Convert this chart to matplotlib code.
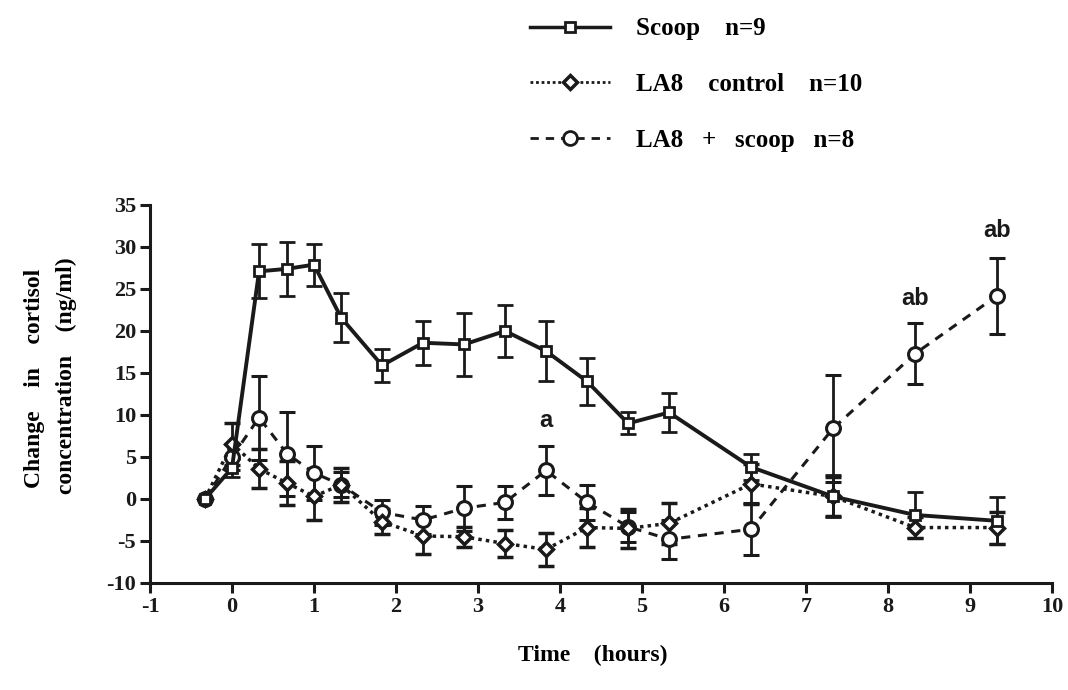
import matplotlib
matplotlib.use('Agg')
import matplotlib.pyplot as plt
from matplotlib.lines import Line2D

plt.rcParams['axes.unicode_minus'] = False

# sampling times (hours)
time_h = [-0.33, 0, 0.33, 0.67, 1.0, 1.33, 1.83, 2.33, 2.83, 3.33, 3.83,
          4.33, 4.83, 5.33, 6.33, 7.33, 8.33, 9.33]

# Scoop n=9
scoop = [0, 3.7, 27.1, 27.4, 27.9, 21.6, 15.9, 18.6, 18.4, 20.0, 17.6,
         14.0, 9.0, 10.3, 3.8, 0.3, -1.9, -2.6]
scoop_err = [0, 1.1, 3.2, 3.2, 2.5, 2.9, 2.0, 2.6, 3.8, 3.1, 3.6,
             2.8, 1.3, 2.3, 1.5, 2.5, 2.7, 2.8]

# LA8 control n=10
control = [0, 6.6, 3.6, 1.9, 0.3, 1.7, -2.7, -4.4, -4.5, -5.3, -6.0,
           -3.4, -3.5, -2.9, 1.8, 0.3, -3.4, -3.4]
control_err = [0, 2.5, 2.3, 2.6, 2.8, 2.0, 1.5, 2.2, 1.2, 1.6, 2.0,
               2.3, 2.3, 2.4, 2.4, 2.3, 1.2, 1.9]

# LA8 + scoop n=8
la8_scoop = [0, 5.0, 9.7, 5.4, 3.1, 1.7, -1.6, -2.5, -1.1, -0.4, 3.4,
             -0.4, -3.3, -4.8, -3.6, 8.4, 17.3, 24.2]
la8_scoop_err = [0, 1.5, 5.0, 5.0, 3.2, 1.5, 1.5, 1.7, 2.7, 2.0, 2.9,
                 2.1, 1.8, 2.3, 3.1, 6.4, 3.6, 4.5]

# significance labels: (time, y, text)
sig_labels = [(3.83, 9.3, 'a'), (8.33, 23.9, 'ab'), (9.33, 32.0, 'ab')]

legend_labels = ['Scoop    n=9', 'LA8    control    n=10', 'LA8   +   scoop   n=8']

serif = 'Liberation Serif'
sans = 'Liberation Sans'
ink = '#1a1a1a'

fig = plt.figure(figsize=(10.68, 6.9), dpi=100)
ax = fig.add_axes([150/1068, 1 - 583/690, (1052-150)/1068, (583-205)/690])

eb = dict(color=ink, elinewidth=2, capsize=6, capthick=2.5, zorder=3)

ax.errorbar(time_h, la8_scoop, yerr=la8_scoop_err, linestyle=(0, (3, 2.5)),
            linewidth=2.2, marker='o', markersize=10, markerfacecolor='white',
            markeredgewidth=2.2, markeredgecolor=ink, **eb)
ax.errorbar(time_h, control, yerr=control_err, linestyle=(0, (1, 1.2)),
            linewidth=2.5, marker='D', markersize=7, markerfacecolor='white',
            markeredgewidth=2.5, markeredgecolor=ink, **eb)
ax.errorbar(time_h, scoop, yerr=scoop_err, linestyle='-',
            linewidth=2.8, marker='s', markersize=7, markerfacecolor='white',
            markeredgewidth=2, markeredgecolor=ink, **eb)

for x, y, t in sig_labels:
    ax.text(x, y, t, ha='center', va='center', fontsize=17,
            fontweight='bold', family=sans, color=ink)

ax.set_xlim(-1, 10)
ax.set_ylim(-10, 35)
ax.set_xticks(range(-1, 11))
ax.set_yticks(range(-10, 36, 5))
ax.spines['top'].set_visible(False)
ax.spines['right'].set_visible(False)
for s in ['left', 'bottom']:
    ax.spines[s].set_linewidth(2.2)
    ax.spines[s].set_color(ink)
ax.tick_params(direction='out', length=7, width=2.2, colors=ink, pad=3)
for lab in ax.get_xticklabels() + ax.get_yticklabels():
    lab.set_family(serif)
    lab.set_fontweight('bold')
    lab.set_fontsize(16)

fig.text(593/1068, 1 - 655/690, 'Time    (hours)', ha='center', va='center',
         family=serif, fontweight='bold', fontsize=17)
fig.text(35/1068, 1 - 378/690, 'Change    in    cortisol', rotation=90,
         ha='center', va='center', family=serif, fontweight='bold', fontsize=17)
fig.text(66/1068, 1 - 376/690, 'concentration    (ng/ml)', rotation=90,
         ha='center', va='center', family=serif, fontweight='bold', fontsize=17)

handles = [
    Line2D([], [], color=ink, linestyle='-', linewidth=2.5, marker='s',
           markersize=7, markerfacecolor='white', markeredgewidth=2),
    Line2D([], [], color=ink, linestyle=(0, (1, 1)), linewidth=2, marker='D',
           markersize=7, markerfacecolor='white', markeredgewidth=2.5),
    Line2D([], [], color=ink, linestyle=(0, (3, 2.5)), linewidth=2, marker='o',
           markersize=10, markerfacecolor='white', markeredgewidth=2),
]
leg = fig.legend(handles, legend_labels, loc='upper left',
                 bbox_to_anchor=(517/1068, 1 - 5/690), frameon=False,
                 borderpad=0, handlelength=3.2, handletextpad=1.05,
                 labelspacing=1.3,
                 prop={'family': serif, 'weight': 'bold', 'size': 18})

fig.savefig('out.png', dpi=100)
